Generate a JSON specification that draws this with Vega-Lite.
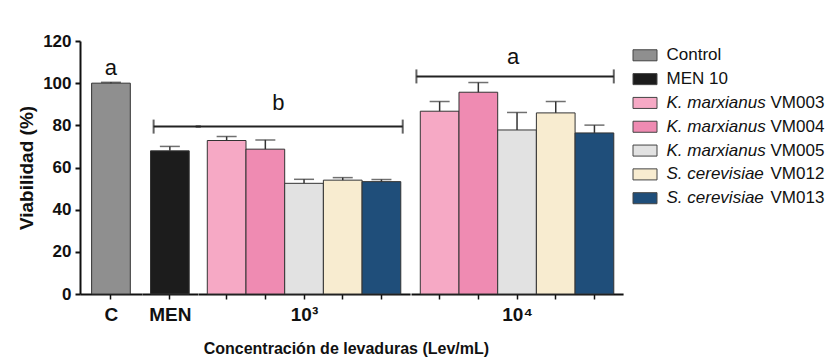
{
  "$schema": "https://vega.github.io/schema/vega-lite/v6.json",
  "background": "white",
  "padding": {"left": 17, "top": 32, "right": 0, "bottom": 0},
  "config": {
    "view": {"stroke": null},
    "font": "Liberation Sans",
    "axisX": {"labels": false, "tickSize": 5, "tickWidth": 1.5, "tickColor": "#111", "domainWidth": 2, "domainColor": "#111", "grid": false, "titleFontSize": 19, "titleFontWeight": "bold", "titleColor": "#111", "titlePadding": 6},
    "axisY": {"labelFontSize": 17, "labelFontWeight": "bold", "labelColor": "#111", "labelPadding": 4, "tickSize": 5, "tickWidth": 2, "tickColor": "#111", "domainWidth": 2, "domainColor": "#111", "grid": false, "titleFontSize": 19, "titleFontWeight": "bold", "titleColor": "#111", "titlePadding": 6},
    "bar": {"stroke": "#333", "strokeWidth": 1},
    "rule": {"color": "#222"},
    "tick": {"color": "#333"}
  },
  "datasets": {
    "main": [
      {"type": "bar", "group": "C", "key": "Control", "v": 100, "hi": 100.4},
      {"type": "bar", "group": "MEN", "key": "MEN 10", "v": 67.9, "hi": 70.0},
      {"type": "bar", "group": "10³", "key": "K. marxianus VM003", "v": 72.8, "hi": 74.7},
      {"type": "bar", "group": "10³", "key": "K. marxianus VM004", "v": 68.7, "hi": 73.1},
      {"type": "bar", "group": "10³", "key": "K. marxianus VM005", "v": 52.5, "hi": 54.4},
      {"type": "bar", "group": "10³", "key": "S. cerevisiae VM012", "v": 54.0, "hi": 55.2},
      {"type": "bar", "group": "10³", "key": "S. cerevisiae VM013", "v": 53.3, "hi": 54.3},
      {"type": "bar", "group": "10⁴", "key": "K. marxianus VM003", "v": 86.7, "hi": 91.3},
      {"type": "bar", "group": "10⁴", "key": "K. marxianus VM004", "v": 95.7, "hi": 100.3},
      {"type": "bar", "group": "10⁴", "key": "K. marxianus VM005", "v": 77.8, "hi": 86.1},
      {"type": "bar", "group": "10⁴", "key": "S. cerevisiae VM012", "v": 85.9, "hi": 91.3},
      {"type": "bar", "group": "10⁴", "key": "S. cerevisiae VM013", "v": 76.4, "hi": 80.1},
      {"type": "br", "group": "MEN", "key": "MEN 10", "to": "MEN 10", "level": 79.4},
      {"type": "br", "group": "10³", "key": "K. marxianus VM003", "to": "S. cerevisiae VM013", "level": 79.4},
      {"type": "br", "group": "10⁴", "key": "K. marxianus VM003", "to": "S. cerevisiae VM013", "level": 103.2},
      {"type": "lab", "group": "C", "key": "Control", "level": 104, "txt": "a"},
      {"type": "lab", "group": "10³", "key": "K. marxianus VM004", "level": 87.5, "txt": "b"},
      {"type": "lab", "group": "10⁴", "key": "K. marxianus VM005", "level": 109, "txt": "a"}
    ],
    "legend": [
      {"key": "Control", "sp": "", "code": "Control"},
      {"key": "MEN 10", "sp": "", "code": "MEN 10"},
      {"key": "K. marxianus VM003", "sp": "K. marxianus", "code": "VM003"},
      {"key": "K. marxianus VM004", "sp": "K. marxianus", "code": "VM004"},
      {"key": "K. marxianus VM005", "sp": "K. marxianus", "code": "VM005"},
      {"key": "S. cerevisiae VM012", "sp": "S. cerevisiae", "code": "VM012"},
      {"key": "S. cerevisiae VM013", "sp": "S. cerevisiae", "code": "VM013"}
    ]
  },
  "spacing": 7,
  "hconcat": [
    {
      "title": {"text": "Concentración de levaduras (Lev/mL)", "orient": "bottom", "anchor": "middle", "fontSize": 16, "fontWeight": "bold", "color": "#111", "offset": 16, "dx": 26},
      "spacing": 0,
      "bounds": "flush",
      "resolve": {"scale": {"x": "independent", "y": "shared"}},
      "hconcat": [
        {
          "data": {"name": "main"},
          "transform": [{"filter": "datum.group === 'C'"}],
          "width": {"step": 38.7},
          "height": 253,
          "layer": [
            {
              "transform": [{"filter": "datum.type === 'bar'"}],
              "mark": {"type": "bar"},
              "encoding": {
                "x": {"field": "key", "type": "nominal", "title": "C", "scale": {"paddingInner": 0, "paddingOuter": 0.3}},
                "y": {"field": "v", "type": "quantitative", "title": "Viabilidad (%)", "scale": {"domain": [0, 120]}, "axis": {"values": [0, 20, 40, 60, 80, 100, 120]}},
                "color": {"field": "key", "type": "nominal", "legend": null, "scale": {
                  "domain": ["Control", "MEN 10", "K. marxianus VM003", "K. marxianus VM004", "K. marxianus VM005", "S. cerevisiae VM012", "S. cerevisiae VM013"],
                  "range": ["#8f8f8f", "#1c1c1c", "#f6a9c5", "#ef8bb2", "#e2e2e2", "#f8ecd0", "#1f4e7a"]}}
              }
            },
            {
              "transform": [{"filter": "datum.type === 'bar'"}],
              "mark": {"type": "rule", "color": "#333", "strokeWidth": 1.5},
              "encoding": {
                "x": {"field": "key", "type": "nominal", "title": "C"},
                "y": {"field": "v", "type": "quantitative", "title": "Viabilidad (%)"},
                "y2": {"field": "hi"}
              }
            },
            {
              "transform": [{"filter": "datum.type === 'bar'"}],
              "mark": {"type": "tick", "orient": "horizontal", "size": 20, "thickness": 1.5},
              "encoding": {
                "x": {"field": "key", "type": "nominal", "title": "C"},
                "y": {"field": "hi", "type": "quantitative", "title": "Viabilidad (%)"}
              }
            },
            {
              "transform": [{"filter": "datum.type === 'lab'"}],
              "mark": {"type": "text", "fontSize": 22, "color": "#111", "baseline": "alphabetic"},
              "encoding": {
                "x": {"field": "key", "type": "nominal", "title": "C", "bandPosition": 0.5},
                "y": {"field": "level", "type": "quantitative", "title": "Viabilidad (%)"},
                "text": {"field": "txt"}
              }
            }
          ]
        },
        {
          "data": {"name": "main"},
          "transform": [{"filter": "datum.group === 'MEN'"}],
          "width": {"step": 38.7},
          "height": 253,
          "layer": [
            {
              "transform": [{"filter": "datum.type === 'bar'"}],
              "mark": {"type": "bar"},
              "encoding": {
                "x": {"field": "key", "type": "nominal", "title": "MEN", "scale": {"paddingInner": 0, "paddingOuter": 0.22}},
                "y": {"field": "v", "type": "quantitative", "scale": {"domain": [0, 120]}, "axis": null},
                "color": {"field": "key", "type": "nominal", "legend": null}
              }
            },
            {
              "transform": [{"filter": "datum.type === 'bar'"}],
              "mark": {"type": "rule", "color": "#333", "strokeWidth": 1.5},
              "encoding": {
                "x": {"field": "key", "type": "nominal", "title": "MEN"},
                "y": {"field": "v", "type": "quantitative", "axis": null},
                "y2": {"field": "hi"}
              }
            },
            {
              "transform": [{"filter": "datum.type === 'bar'"}],
              "mark": {"type": "tick", "orient": "horizontal", "size": 20, "thickness": 1.5},
              "encoding": {
                "x": {"field": "key", "type": "nominal", "title": "MEN"},
                "y": {"field": "hi", "type": "quantitative", "axis": null}
              }
            },
            {
              "transform": [{"filter": "datum.type === 'br'"}],
              "mark": {"type": "rule", "strokeWidth": 2},
              "encoding": {
                "x": {"field": "key", "type": "nominal", "title": "MEN", "bandPosition": 0.08},
                "x2": {"field": "to", "bandPosition": 1.3},
                "y": {"field": "level", "type": "quantitative", "axis": null}
              }
            },
            {
              "transform": [{"filter": "datum.type === 'br'"}],
              "mark": {"type": "tick", "orient": "vertical", "color": "#222", "size": 14, "thickness": 2},
              "encoding": {
                "x": {"field": "key", "type": "nominal", "title": "MEN", "bandPosition": 0.08},
                "y": {"field": "level", "type": "quantitative", "axis": null}
              }
            }
          ]
        },
        {
          "data": {"name": "main"},
          "transform": [{"filter": "datum.group === '10³'"}],
          "width": {"step": 38.7},
          "height": 253,
          "layer": [
            {
              "transform": [{"filter": "datum.type === 'bar'"}],
              "mark": {"type": "bar"},
              "encoding": {
                "x": {"field": "key", "type": "nominal", "title": "10³", "scale": {"paddingInner": 0, "paddingOuter": 0.24}},
                "y": {"field": "v", "type": "quantitative", "scale": {"domain": [0, 120]}, "axis": null},
                "color": {"field": "key", "type": "nominal", "legend": null}
              }
            },
            {
              "transform": [{"filter": "datum.type === 'bar'"}],
              "mark": {"type": "rule", "color": "#333", "strokeWidth": 1.5},
              "encoding": {
                "x": {"field": "key", "type": "nominal", "title": "10³"},
                "y": {"field": "v", "type": "quantitative", "axis": null},
                "y2": {"field": "hi"}
              }
            },
            {
              "transform": [{"filter": "datum.type === 'bar'"}],
              "mark": {"type": "tick", "orient": "horizontal", "size": 20, "thickness": 1.5},
              "encoding": {
                "x": {"field": "key", "type": "nominal", "title": "10³"},
                "y": {"field": "hi", "type": "quantitative", "axis": null}
              }
            },
            {
              "transform": [{"filter": "datum.type === 'br'"}],
              "mark": {"type": "rule", "strokeWidth": 2},
              "encoding": {
                "x": {"field": "key", "type": "nominal", "title": "10³", "bandPosition": -0.3},
                "x2": {"field": "to", "bandPosition": 1.05},
                "y": {"field": "level", "type": "quantitative", "axis": null}
              }
            },
            {
              "transform": [{"filter": "datum.type === 'br'"}],
              "mark": {"type": "tick", "orient": "vertical", "color": "#222", "size": 14, "thickness": 2},
              "encoding": {
                "x": {"field": "to", "type": "nominal", "title": "10³", "bandPosition": 1.05},
                "y": {"field": "level", "type": "quantitative", "axis": null}
              }
            },
            {
              "transform": [{"filter": "datum.type === 'lab'"}],
              "mark": {"type": "text", "fontSize": 22, "color": "#111", "baseline": "alphabetic"},
              "encoding": {
                "x": {"field": "key", "type": "nominal", "title": "10³", "bandPosition": 0.84},
                "y": {"field": "level", "type": "quantitative", "axis": null},
                "text": {"field": "txt"}
              }
            }
          ]
        },
        {
          "data": {"name": "main"},
          "transform": [{"filter": "datum.group === '10⁴'"}],
          "width": {"step": 38.7},
          "height": 253,
          "layer": [
            {
              "transform": [{"filter": "datum.type === 'bar'"}],
              "mark": {"type": "bar"},
              "encoding": {
                "x": {"field": "key", "type": "nominal", "title": "10⁴", "scale": {"paddingInner": 0, "paddingOuter": 0.24}},
                "y": {"field": "v", "type": "quantitative", "scale": {"domain": [0, 120]}, "axis": null},
                "color": {"field": "key", "type": "nominal", "legend": null}
              }
            },
            {
              "transform": [{"filter": "datum.type === 'bar'"}],
              "mark": {"type": "rule", "color": "#333", "strokeWidth": 1.5},
              "encoding": {
                "x": {"field": "key", "type": "nominal", "title": "10⁴"},
                "y": {"field": "v", "type": "quantitative", "axis": null},
                "y2": {"field": "hi"}
              }
            },
            {
              "transform": [{"filter": "datum.type === 'bar'"}],
              "mark": {"type": "tick", "orient": "horizontal", "size": 20, "thickness": 1.5},
              "encoding": {
                "x": {"field": "key", "type": "nominal", "title": "10⁴"},
                "y": {"field": "hi", "type": "quantitative", "axis": null}
              }
            },
            {
              "transform": [{"filter": "datum.type === 'br'"}],
              "mark": {"type": "rule", "strokeWidth": 2},
              "encoding": {
                "x": {"field": "key", "type": "nominal", "title": "10⁴", "bandPosition": -0.1},
                "x2": {"field": "to", "bandPosition": 1.0},
                "y": {"field": "level", "type": "quantitative", "axis": null}
              }
            },
            {
              "transform": [{"filter": "datum.type === 'br'"}],
              "mark": {"type": "tick", "orient": "vertical", "color": "#222", "size": 14, "thickness": 2},
              "encoding": {
                "x": {"field": "key", "type": "nominal", "title": "10⁴", "bandPosition": -0.1},
                "y": {"field": "level", "type": "quantitative", "axis": null}
              }
            },
            {
              "transform": [{"filter": "datum.type === 'br'"}],
              "mark": {"type": "tick", "orient": "vertical", "color": "#222", "size": 14, "thickness": 2},
              "encoding": {
                "x": {"field": "to", "type": "nominal", "title": "10⁴", "bandPosition": 1.0},
                "y": {"field": "level", "type": "quantitative", "axis": null}
              }
            },
            {
              "transform": [{"filter": "datum.type === 'lab'"}],
              "mark": {"type": "text", "fontSize": 22, "color": "#111", "baseline": "alphabetic"},
              "encoding": {
                "x": {"field": "key", "type": "nominal", "title": "10⁴", "bandPosition": 0.4},
                "y": {"field": "level", "type": "quantitative", "axis": null},
                "text": {"field": "txt"}
              }
            }
          ]
        }
      ]
    },
    {
      "data": {"name": "legend"},
      "width": 24,
      "height": 171.5,
      "encoding": {
        "y": {"field": "key", "type": "nominal", "axis": null, "scale": {"type": "point", "padding": 0.6, "domain": ["Control", "MEN 10", "K. marxianus VM003", "K. marxianus VM004", "K. marxianus VM005", "S. cerevisiae VM012", "S. cerevisiae VM013"]}}
      },
      "layer": [
        {
          "mark": {"type": "point", "shape": "M-1,-0.46H1V0.46H-1Z", "size": 576, "filled": true, "opacity": 1, "stroke": "#444", "strokeWidth": 1},
          "encoding": {"color": {"field": "key", "type": "nominal", "legend": null}}
        },
        {
          "transform": [{"filter": "datum.sp === ''"}],
          "mark": {"type": "text", "align": "left", "baseline": "middle", "dx": 21.5, "fontSize": 17, "color": "#111"},
          "encoding": {"text": {"field": "code"}}
        },
        {
          "transform": [{"filter": "datum.sp !== ''"}],
          "mark": {"type": "text", "align": "left", "baseline": "middle", "dx": 21.5, "fontSize": 17, "fontStyle": "italic", "color": "#111"},
          "encoding": {"text": {"field": "sp"}}
        },
        {
          "transform": [{"filter": "datum.sp !== ''"}],
          "mark": {"type": "text", "align": "left", "baseline": "middle", "dx": 125.5, "fontSize": 17, "color": "#111"},
          "encoding": {"text": {"field": "code"}}
        }
      ]
    }
  ]
}
